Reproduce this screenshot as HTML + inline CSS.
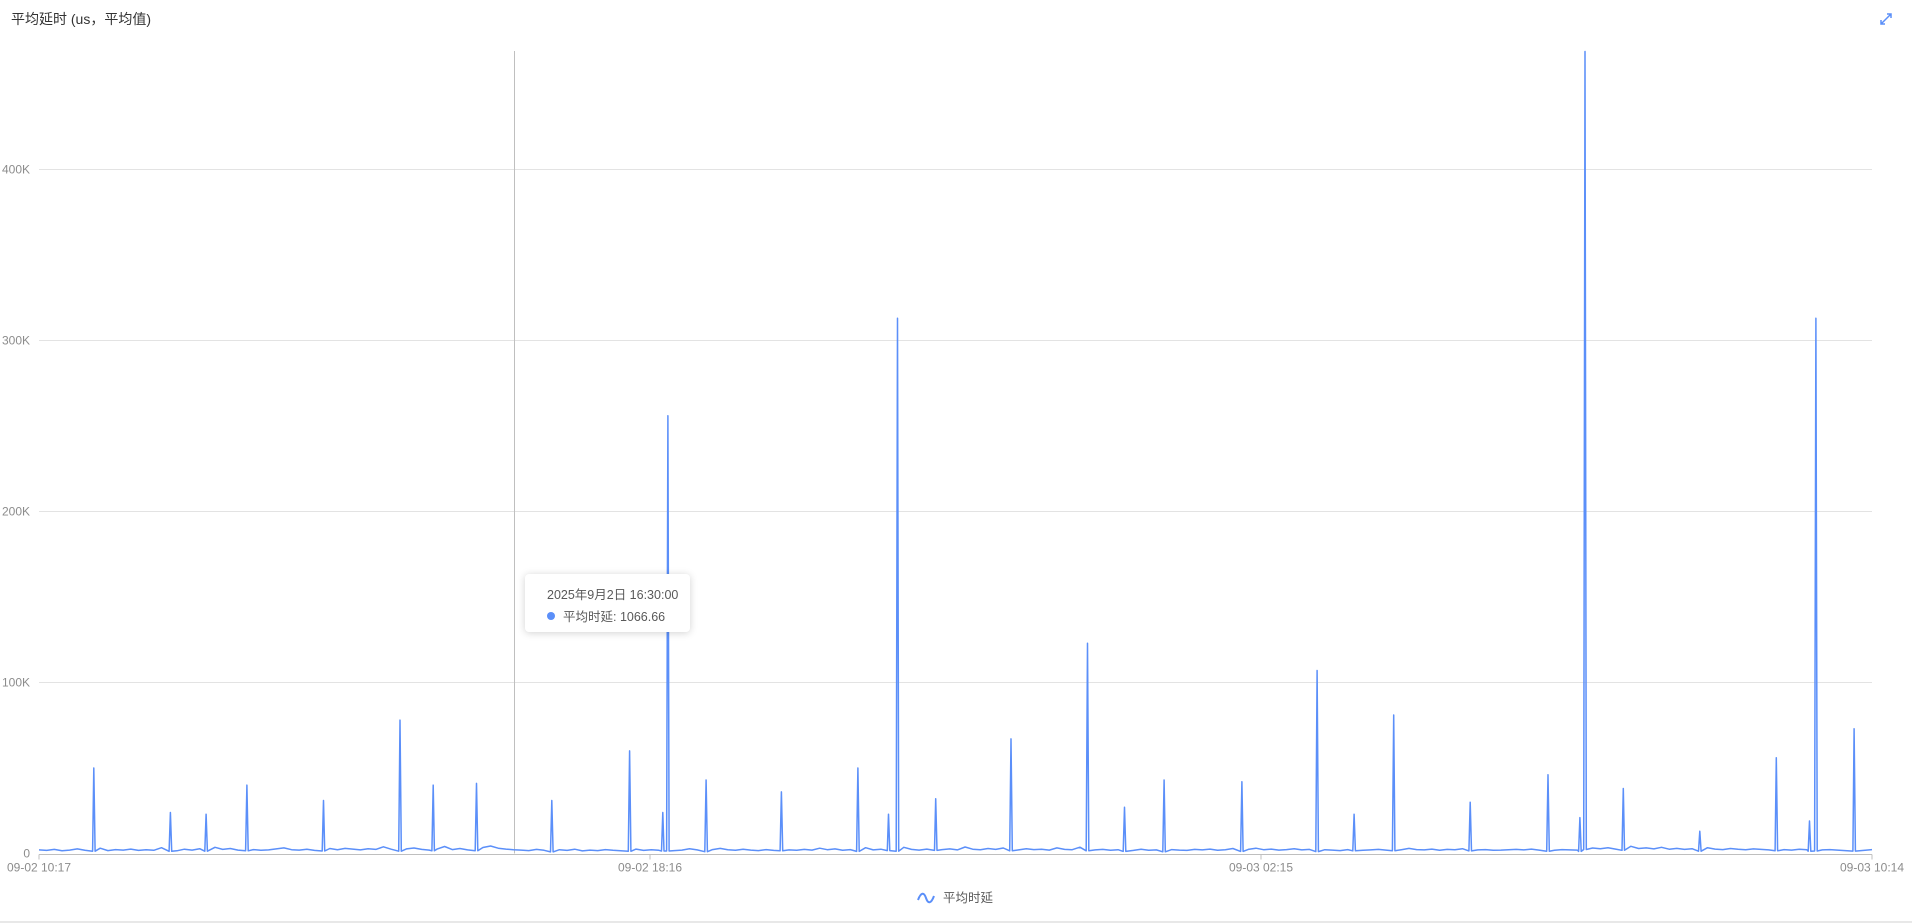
<!DOCTYPE html>
<html><head><meta charset="utf-8">
<style>
body{margin:0;width:1912px;height:923px;background:#fff;overflow:hidden;font-family:"Liberation Sans","Noto Sans CJK SC",sans-serif;}
#wrap{position:relative;width:1912px;height:923px;}
.title{position:absolute;left:11px;top:9px;font-size:14px;color:#333;}
.expand{position:absolute;left:1879px;top:12px;}
.tooltip{position:absolute;left:525px;top:574px;width:165px;height:58px;background:#fff;border-radius:4px;box-shadow:0 1px 8px rgba(0,0,0,0.18);font-size:12.5px;color:#595959;}
.tt-time{position:absolute;left:22px;top:10px;}
.tt-row{position:absolute;left:22px;top:32px;}
.tt-dot{display:inline-block;width:8px;height:8px;border-radius:50%;background:#5b8ff9;margin-right:8px;vertical-align:1px;}
.legend{position:absolute;left:917px;top:887px;font-size:12.5px;color:#595959;}
.bottom-line{position:absolute;left:0;top:921px;width:1912px;height:2px;background:#e8e8e8;}
</style></head>
<body>
<div id="wrap">
<div class="title">平均延时 (us，平均值)</div>
<svg class="expand" width="14" height="14"><path d="M2 12 L12 2 M8 2 H12 V6 M2 8 V12 H6" stroke="#5b8ff9" stroke-width="1.5" fill="none"/></svg>
<svg id="chart" width="1912" height="923" style="position:absolute;left:0;top:0"></svg>
<div class="tooltip">
<div class="tt-time">2025年9月2日 16:30:00</div>
<div class="tt-row"><span class="tt-dot"></span>平均时延: 1066.66</div>
</div>
<div class="legend"><svg width="18" height="12" style="vertical-align:-2px;margin-right:8px"><path d="M1 8 C4 0,7 0,9 6 S14 12,17 4" stroke="#5b8ff9" stroke-width="2" fill="none"/></svg>平均时延</div>
<div class="bottom-line"></div>
</div>
<script>
const yTicks=[0,100000,200000,300000,400000];
const yTickLabels=["0","100K","200K","300K","400K"];
const xTickMinutes=[0,479,958,1437];
const xTickLabels=["09-02 10:17","09-02 18:16","09-03 02:15","09-03 10:14"];
const baseline=[2.1,1.8,2.4,1.6,2.0,2.7,1.9,2.2,3.1,1.7,2.3,2.0,2.6,1.8,2.2,1.9,3.4,2.1,1.6,2.5,2.0,2.8,2.2,3.6,2.4,2.9,2.0,2.6,2.3,1.9,2.1,2.7,3.3,2.2,2.0,2.5,1.8,2.4,2.9,2.2,3.0,2.6,2.1,2.8,2.4,3.9,2.5,2.2,2.7,3.2,2.4,2.0,2.6,4.1,2.3,2.9,2.1,2.7,3.5,4.4,3.1,2.6,2.2,2.0,1.7,2.4,1.9,1.6,2.2,1.8,2.5,1.5,2.0,1.7,2.3,1.9,1.6,2.1,2.6,1.8,2.2,1.9,2.4,1.7,2.0,2.8,2.1,1.8,2.3,3.0,2.2,1.9,2.5,2.0,1.7,2.3,1.8,2.6,2.1,1.9,2.4,2.0,3.1,2.2,2.7,1.9,2.3,2.0,3.4,2.1,2.5,2.8,2.2,3.6,2.4,2.0,2.6,3.0,2.3,2.7,2.1,3.8,2.5,2.2,2.9,2.4,3.2,2.6,2.1,2.8,2.3,2.5,2.0,3.3,2.4,2.2,3.7,2.6,2.1,2.4,1.9,2.2,2.0,1.8,2.5,1.9,2.1,1.7,2.3,2.0,1.8,2.4,2.1,2.6,1.9,2.2,2.9,2.0,2.4,3.1,2.2,2.6,2.0,2.3,2.8,2.1,2.4,1.9,2.2,2.0,1.7,2.3,2.6,1.9,2.1,2.4,2.0,2.7,2.2,3.0,2.3,2.1,2.6,1.9,2.4,2.2,2.8,2.5,2.1,2.3,1.9,2.0,2.2,2.4,2.1,2.6,2.0,2.2,1.9,2.3,2.1,2.0,3.9,3.2,2.8,3.4,2.6,3.1,4.2,2.9,3.3,2.7,3.6,2.5,3.0,2.4,2.8,2.2,3.4,2.6,2.3,2.9,2.5,2.2,2.7,2.4,2.1,2.6,2.3,2.0,2.5,2.2,2.4,2.1,2.3];
const spikeMinutes=[43,103,131,163,223,283,309,343,402,463,489,493,523,582,642,666,673,703,762,822,851,882,943,1002,1031,1062,1122,1183,1208,1212,1242,1302,1362,1388,1393,1423];
const spikeValues=[50000,24000,23000,40000,31000,78000,40000,41000,31000,60000,24000,256000,43000,36000,50000,23000,313000,32000,67000,123000,27000,43000,42000,107000,23000,81000,30000,46000,21000,469000,38000,13000,56000,19000,313000,73000];
const X0=39,X1=1872,Y0=853.5,Ytop=51,maxMin=1437,pxPer=171/100000;
const sx=m=>X0+(X1-X0)*m/maxMin;
const sy=v=>Y0-v*pxPer;
const svg=document.getElementById('chart');
const NS='http://www.w3.org/2000/svg';
function mk(t,a){const e=document.createElementNS(NS,t);for(const k in a)e.setAttribute(k,a[k]);svg.appendChild(e);return e;}
yTicks.forEach((v,i)=>{
 if(i>0){const g=mk('line',{x1:X0,x2:X1,y1:sy(v),y2:sy(v),stroke:'#e3e3e3','stroke-width':1});
 
 }
 const t=mk('text',{x:30,y:sy(v)+4,'text-anchor':'end','font-size':12,fill:'#8c8c8c','font-family':'Liberation Sans, sans-serif'});
 t.textContent=yTickLabels[i];
 
 
});
const ax=mk('line',{x1:X0,x2:X1,y1:Y0+1,y2:Y0+1,stroke:'#bfbfbf','stroke-width':1});


xTickMinutes.forEach((m,i)=>{
 const tk=mk('line',{x1:sx(m),x2:sx(m),y1:Y0+1,y2:Y0+6,stroke:'#bfbfbf'});
 
 
 const t=mk('text',{x:sx(m),y:Y0+18,'text-anchor':'middle','font-size':12,fill:'#8c8c8c','font-family':'Liberation Sans, sans-serif'});
 t.textContent=xTickLabels[i];
 
 
});
const cur=mk('line',{x1:514.5,x2:514.5,y1:Ytop,y2:Y0,stroke:'#bfbfbf','stroke-width':1});


let pts=baseline.map((v,i)=>[i*6,v*1000]);
pts.push([maxMin,baseline[baseline.length-1]*1000]);
spikeMinutes.forEach((m,i)=>{
 const b=baseline[Math.min(baseline.length-1,Math.round(m/6))]*1000;
 pts=pts.filter(p=>Math.abs(p[0]-m)>=2);
 pts.push([m-1,b*0.6],[m,spikeValues[i]],[m+1,b*0.6]);
});
pts.sort((a,b)=>a[0]-b[0]);
const d=pts.map((p,i)=>(i?'L':'M')+sx(p[0]).toFixed(1)+' '+sy(p[1]).toFixed(1)).join(' ');
const line=mk('path',{d:d,stroke:'#5b8ff9','stroke-width':1.5,fill:'none','stroke-linejoin':'round'});


</script>
</body></html>
